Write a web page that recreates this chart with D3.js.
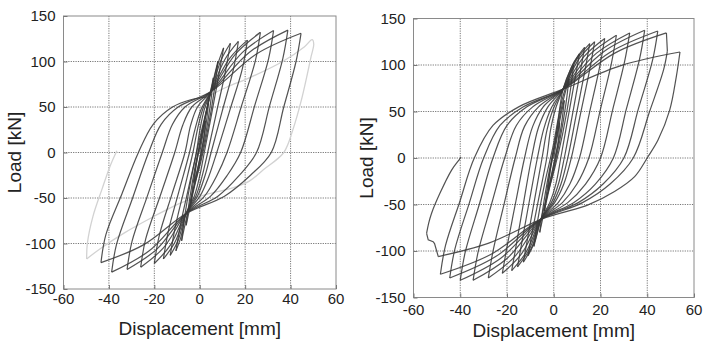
<!DOCTYPE html>
<html>
<head>
<meta charset="utf-8">
<script src="https://cdn.jsdelivr.net/npm/d3@7/dist/d3.min.js"></script>
<style>
  body { margin: 0; background: #fff; }
  text { font-family: "Liberation Sans", Arial, sans-serif; fill: #222; }
</style>
</head>
<body>
<svg id="chart" width="705" height="349"></svg>
<script>
// axis ticks and titles
const xTicks = [-60, -40, -20, 0, 20, 40, 60];
const yTicks = [-150, -100, -50, 0, 50, 100, 150];
const xTitle = "Displacement [mm]";
const yTitle = "Load [kN]";

// left specimen: half cycles, [displacement mm, load kN]
const leftBranches = [
  [[0,0],[2.5,35]],
  [[2.5,35],[1.8,15],[0.6,0],[-1,-18],[-2.5,-33]],
  [[-2.5,-33],[-1.6,-14],[-0.5,0],[1.5,25],[3,45],[4,58]],
  [[4,58],[3,35],[1,5],[-1,-20],[-2.8,-40],[-4,-56]],
  [[-4,-56],[-2.8,-32],[-1,-5],[1,22],[3.5,52],[6,82]],
  [[6,82],[4.8,55],[2.5,18],[0,-12],[-3,-45],[-6,-80]],
  [[-6,-80],[-4.5,-52],[-2,-15],[0.5,15],[4,58],[8,100]],
  [[8,100],[6.5,70],[3.5,25],[0.5,-10],[-3,-42],[-5.5,-68],[-8,-97]],
  [[-8,-97],[-6.5,-68],[-3.5,-25],[-0.5,10],[2.5,42],[5,67],[7.8,96],[10.5,115]],
  [[10.5,115],[8.3,84],[5.2,42],[2,0],[0,-25.5],[-2.4,-48],[-6,-67],[-8.3,-93],[-10.5,-108]],
  [[-10.5,-108],[-8.3,-77],[-4.9,-38.5],[-1.5,0],[0.1,25.5],[2.1,48],[5,67],[9.3,101],[13.5,120]],
  [[13.5,120],[11.3,89],[7.4,44.5],[3.5,0],[1.1,-25.5],[-1.7,-48],[-6,-67],[-9.5,-96.4],[-13,-113]],
  [[-13,-113],[-10.8,-82],[-6.9,-41],[-3,0],[-1,25.5],[1.4,48],[5,67],[11,102],[17,122]],
  [[17,122],[14.8,91],[9.9,45.5],[5,0],[2.3,-25.5],[-1,-48],[-6,-67],[-11,-99],[-16,-117]],
  [[-16,-117],[-13.8,-86],[-9.2,-43],[-4.5,0],[-2.1,25.5],[0.7,48],[5,67],[13,103],[21,123.5]],
  [[21,123.5],[18.8,92.5],[13.2,46],[7.5,0],[4.1,-25.5],[0.1,-48],[-6,-67],[-13,-102],[-20,-122]],
  [[-20,-122],[-17.8,-91],[-12.2,-45.5],[-6.5,0],[-4,30],[-1,50],[5,67],[15.9,108.6],[26.7,132]],
  [[26.7,132],[24.5,101],[18.3,50.5],[12,0],[7.5,-25.5],[2.1,-48],[-6,-67],[-16,-104.8],[-26,-126]],
  [[-26,-126],[-23.8,-95],[-17.4,-47.5],[-11,0],[-7.5,30],[-3.5,50],[5,67],[18.8,110],[32.5,134]],
  [[32.5,134],[30.3,103],[24.2,51.5],[18,0],[12,-25.5],[4.8,-48],[-6,-67],[-19,-106.4],[-32,-128.5]],
  [[-32,-128.5],[-29.8,-97.5],[-23.2,-48.8],[-16.5,0],[-12,31],[-6.5,50],[5,67],[21.9,110.2],[38.8,134.5]],
  [[38.8,134.5],[36.6,103.5],[30.8,51.8],[25,0],[17.3,-25.5],[8,-48],[-6,-67],[-22.4,-108.3],[-38.8,-131.5]],
  [[-38.8,-131.5],[-36.6,-100.5],[-29.6,-50.3],[-22.5,0],[-17,31],[-9.5,50],[5,67],[24.8,108],[44.6,131]],
  [[44.6,131],[42.4,100],[37,50],[31.5,0],[22.1,-25.5],[10.9,-48],[-6,-67],[-24.8,-101.5],[-43.5,-121]],
  [[-43.5,-121],[-41.3,-90],[-34.2,-45],[-27,0],[-20.5,31],[-12,50],[-4,58],[3,61]]
];

// left specimen, last cycle (light grey in the figure)
const leftLastCycle = [
  [[3,61],[12,72],[21.8,82],[36.5,100],[46,116],[49.5,124],[50.2,119],[49,105],[45,60],[41,25],[37,0],
   [28,-19],[21.8,-31.5],[14.5,-39],[3,-46],[-8,-55],[-20,-70],[-33,-88],[-44,-106],[-49.8,-117]],
  [[-49.8,-117],[-49.5,-100],[-47,-70],[-43,-40],[-39.5,-15],[-36.5,2]]
];

// right specimen
const rightBranches = [
  [[0,0],[2.5,38]],
  [[2.5,38],[1.8,16],[0.5,0],[-1,-18],[-2.5,-35]],
  [[-2.5,-35],[-1.6,-15],[-0.5,0],[1.5,26],[3.2,48],[4.5,62]],
  [[4.5,62],[3.4,38],[1.2,6],[-1,-20],[-2.8,-40],[-4,-57]],
  [[-4,-57],[-2.8,-33],[-1,-5],[1,24],[3.5,56],[6.5,85]],
  [[6.5,85],[5.2,58],[2.6,19],[0,-12],[-3,-45],[-6,-80]],
  [[-6,-80],[-4.5,-52],[-2,-15],[0.5,17],[3.5,62],[8.5,100]],
  [[8.5,100],[7,71],[3.8,26],[0.5,-10],[-3,-42],[-5.5,-66],[-8.5,-95]],
  [[-8.5,-95],[-6.8,-66],[-3.6,-24],[-0.5,10],[2,44],[4,74],[7.5,97],[11,112]],
  [[11,112],[8.8,81],[5.9,40.5],[3,0],[0.9,-28],[-1.7,-48],[-5.5,-66],[-8.3,-91],[-11,-105]],
  [[-11,-105],[-8.8,-74],[-5.9,-37],[-3,0],[-1.3,31],[0.9,54],[4,74],[8.6,102.8],[13.2,119]],
  [[13.2,119],[11,88],[7.8,44],[4.5,0],[2,-28],[-1,-48],[-5.5,-66],[-9.3,-95.4],[-13,-112]],
  [[-13,-112],[-10.8,-81],[-7.9,-40.5],[-5,0],[-2.8,31],[0,54],[4,74],[9.7,105.4],[15.4,123]],
  [[15.4,123],[13.2,92],[9.6,46],[6,0],[3.1,-28],[-0.3,-48],[-5.5,-66],[-10.5,-98.6],[-15.5,-117]],
  [[-15.5,-117],[-13.3,-86],[-10.2,-43],[-7,0],[-4.3,31],[-1,54],[4,74],[10.8,106.5],[17.5,125]],
  [[17.5,125],[15.3,94],[11.4,47],[7.5,0],[4.3,-28],[0.4,-48],[-5.5,-66],[-11.8,-101.2],[-18,-121]],
  [[-18,-121],[-15.8,-90],[-12.7,-45],[-9.5,0],[-6.5,33],[-2.5,55],[4,74],[12.9,108.9],[21.8,128.5]],
  [[21.8,128.5],[19.6,97.5],[15.3,48.8],[11,0],[6.9,-28],[1.9,-48],[-5.5,-66],[-13.8,-103.1],[-22,-124]],
  [[-22,-124],[-19.8,-93],[-16.2,-46.5],[-12.5,0],[-9,34],[-4.5,55],[4,74],[15.4,111.1],[26.8,132]],
  [[26.8,132],[24.6,101],[19.8,50.5],[15,0],[9.9,-28],[3.7,-48],[-5.5,-66],[-16.8,-106.3],[-28,-129]],
  [[-28,-129],[-25.8,-98],[-21.2,-49],[-16.5,0],[-12.5,34],[-6.5,55],[4,74],[18.3,112.8],[32.5,134.5]],
  [[32.5,134.5],[30.3,103.5],[25.2,51.8],[20,0],[13.6,-28],[6,-48],[-5.5,-66],[-20,-108],[-34.5,-131.5]],
  [[-34.5,-131.5],[-32.3,-100.5],[-26.7,-50.3],[-21,0],[-16,35],[-9,55],[4,74],[21.5,114.6],[38.9,137.3]],
  [[38.9,137.3],[36.7,106.3],[31.1,53],[25.5,0],[17.8,-28],[8.5,-48],[-5.5,-66],[-22.8,-108],[-40,-131.5]],
  [[-40,-131.5],[-37.8,-100.5],[-31.9,-50.3],[-26,0],[-20,35],[-11.5,55],[4,74],[24.3,114],[44.5,136.5]],
  [[44.5,136.5],[42.3,105.5],[36.2,52.8],[30,0],[21.1,-28],[10.5,-48],[-5.5,-66],[-25,-106.3],[-44.5,-129]],
  [[-44.5,-129],[-42.3,-98],[-36.2,-49],[-30,0],[-23,35],[-13,55],[4,74],[26.1,112.8],[48.2,134.5]],
  [[48.6,115],[47,95],[41,50],[34,0],[24.1,-28],[12.3,-48],[-5.5,-66],[-27,-103.8],[-48.5,-125]],
  [[-48.5,-125],[-46.3,-94],[-40.2,-47],[-34,0],[-26,35],[-15,55],[4,74],[29,99.6],[54,114]],
  [[54,114],[52.4,87],[49.6,51.5],[44.6,19.3],[40.3,1.4],[34.6,-20],[26,-36],[14.7,-50.4],[3.3,-59],
   [-5.5,-66],[-27.8,-91.6],[-49.4,-106]],
  [[-54.4,-81],[-53.5,-70],[-52.3,-59.6],[-48.7,-38],[-43.7,-13],[-40.2,-1],[-39.7,1]]
];

// right specimen: sudden load drops (straight segments)
const rightDrops = [
  [[48.2,134.5],[48.4,125],[48.6,115]],
  [[-49.4,-106],[-51,-92],[-51.6,-90],[-53.7,-88],[-54.4,-81]]
];

const svg = d3.select("#chart");

function drawPanel(box, branches, greyBranches, drops) {
  const x = d3.scaleLinear().domain([-60, 60]).range([box.left, box.right]);
  const y = d3.scaleLinear().domain([-150, 150]).range([box.bottom, box.top]);
  const g = svg.append("g");

  // dotted grid
  g.selectAll(".gx").data(xTicks.slice(1, -1)).enter().append("line")
    .attr("x1", d => x(d)).attr("x2", d => x(d))
    .attr("y1", box.top).attr("y2", box.bottom)
    .attr("stroke", "#666").attr("stroke-width", 0.9).attr("stroke-dasharray", "1.2,1.2");
  g.selectAll(".gy").data(yTicks.slice(1, -1)).enter().append("line")
    .attr("y1", d => y(d)).attr("y2", d => y(d))
    .attr("x1", box.left).attr("x2", box.right)
    .attr("stroke", "#666").attr("stroke-width", 0.9).attr("stroke-dasharray", "1.2,1.2");

  const line = d3.line().x(d => x(d[0])).y(d => y(d[1])).curve(d3.curveCatmullRom.alpha(0.5));
  const straight = d3.line().x(d => x(d[0])).y(d => y(d[1]));

  g.selectAll(".grey").data(greyBranches).enter().append("path")
    .attr("d", line).attr("fill", "none")
    .attr("stroke", "#d2d2d2").attr("stroke-width", 1.3);

  g.selectAll(".loop").data(branches).enter().append("path")
    .attr("d", line).attr("fill", "none")
    .attr("stroke", "#3a3a3a").attr("stroke-width", 1.2).attr("stroke-opacity", 0.88)
    .attr("stroke-linejoin", "round");

  g.selectAll(".drop").data(drops).enter().append("path")
    .attr("d", straight).attr("fill", "none")
    .attr("stroke", "#3a3a3a").attr("stroke-width", 1.2).attr("stroke-opacity", 0.88);

  // frame
  g.append("rect")
    .attr("x", box.left).attr("y", box.top)
    .attr("width", box.right - box.left).attr("height", box.bottom - box.top)
    .attr("fill", "none").attr("stroke", "#8a8a8a").attr("stroke-width", 1);

  // small inward ticks
  const xa = d3.axisBottom(x).tickValues(xTicks).tickSize(-4).tickFormat("");
  const ya = d3.axisLeft(y).tickValues(yTicks).tickSize(-4).tickFormat("");
  g.append("g").attr("transform", `translate(0,${box.bottom})`).call(xa)
    .call(s => s.select(".domain").remove())
    .selectAll("line").attr("stroke", "#777");
  g.append("g").attr("transform", `translate(${box.left},0)`).call(ya)
    .call(s => s.select(".domain").remove())
    .selectAll("line").attr("stroke", "#777");

  // tick labels
  g.selectAll(".xl").data(xTicks).enter().append("text")
    .attr("x", d => x(d)).attr("y", box.bottom + box.xLabelGap)
    .attr("text-anchor", "middle").attr("font-size", box.tickFont)
    .text(d => d);
  g.selectAll(".yl").data(yTicks).enter().append("text")
    .attr("x", box.left - 8).attr("y", d => y(d)).attr("dy", "0.35em")
    .attr("text-anchor", "end").attr("font-size", box.tickFont)
    .text(d => d);

  // axis titles
  g.append("text")
    .attr("x", (box.left + box.right) / 2).attr("y", box.xTitleY)
    .attr("text-anchor", "middle").attr("font-size", 19)
    .text(xTitle);
  g.append("text")
    .attr("transform", `translate(${box.yTitleX},${(box.top + box.bottom) / 2}) rotate(-90)`)
    .attr("text-anchor", "middle").attr("font-size", 19)
    .text(yTitle);
}

drawPanel({left: 63.5, right: 336, top: 16, bottom: 289, xLabelGap: 14.5, tickFont: 15, xTitleY: 335, yTitleX: 21},
  leftBranches, leftLastCycle, []);
drawPanel({left: 413.5, right: 694, top: 18.5, bottom: 297.5, xLabelGap: 17, tickFont: 15, xTitleY: 337, yTitleX: 373},
  rightBranches, [], rightDrops);
</script>
</body>
</html>
